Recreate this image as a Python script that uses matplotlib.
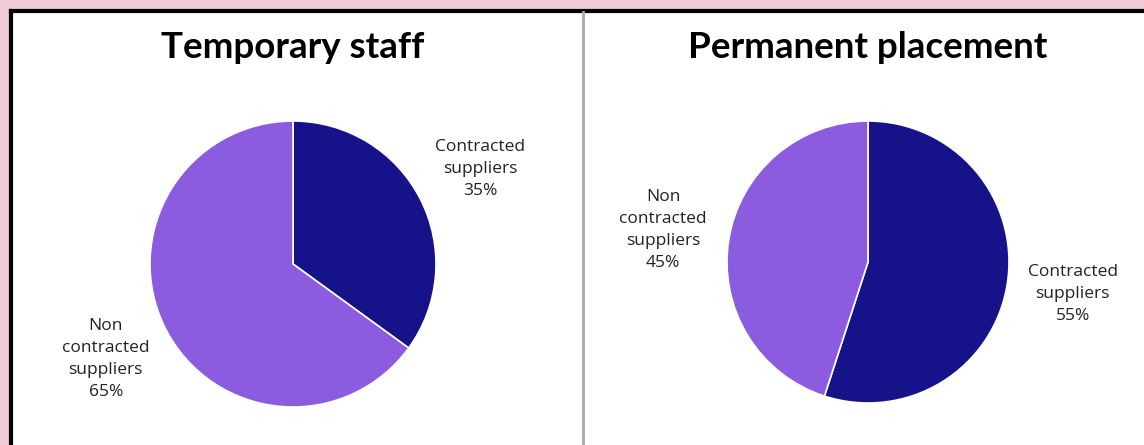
import matplotlib.pyplot as plt
from matplotlib.patches import Rectangle
from matplotlib.lines import Line2D

# data
titles = ["Temporary staff", "Permanent placement"]
slice_names = ["Contracted\nsuppliers", "Non\ncontracted\nsuppliers"]
temporary = [35, 65]
permanent = [55, 45]
colors = ["#16128a", "#8b5ce0"]

W, H = 1144, 445
fig = plt.figure(figsize=(W / 100, H / 100), dpi=100)
fig.patch.set_facecolor("#efcad8")

# white panel with black top/left border
fig.patches.append(Rectangle((12 / W, 0), 1, (H - 12) / H, transform=fig.transFigure,
                             facecolor="white", edgecolor="none", zorder=-5))
fig.add_artist(Line2D([11 / W, 11 / W], [0, (H - 11) / H], color="black", lw=3, transform=fig.transFigure))
fig.add_artist(Line2D([11 / W, 1], [(H - 11) / H, (H - 11) / H], color="black", lw=3, transform=fig.transFigure))
# divider between panels
fig.add_artist(Line2D([583 / W, 583 / W], [0, (H - 12) / H], color="#a8a8a8", lw=2, transform=fig.transFigure))

def pie_axes(cx, cy, r):
    # cx, cy in pixels from top-left
    return fig.add_axes([(cx - r) / W, (H - cy - r) / H, 2 * r / W, 2 * r / H])

panels = [(temporary, 293, 264, 143), (permanent, 868, 262, 141)]
for (vals, cx, cy, r), title in zip(panels, titles):
    ax = pie_axes(cx, cy, r)
    ax.set_zorder(2)
    labels = [f"{n}\n{v}%" for n, v in zip(slice_names, vals)]
    wedges, texts = ax.pie(vals, colors=colors, startangle=90, counterclock=False,
                           labels=labels, labeldistance=1.47,
                           wedgeprops=dict(edgecolor="white", linewidth=1.2),
                           textprops=dict(fontsize=12.5, family="Open Sans", color="#222222"))
    for t in texts:
        t.set_ha("center")
        t.set_va("center")
        t.set_multialignment("center")
        t.set_linespacing(1.5)
        t.set_clip_on(False)
    ax.set_xlim(-1, 1)
    ax.set_ylim(-1, 1)
    ax.set_aspect("equal")
    fig.text(cx / W, (H - 48) / H, title, ha="center", va="center",
             fontsize=26.5, fontweight="bold", family="Lato", color="black")

fig.savefig("out.png", dpi=100, facecolor=fig.get_facecolor())
